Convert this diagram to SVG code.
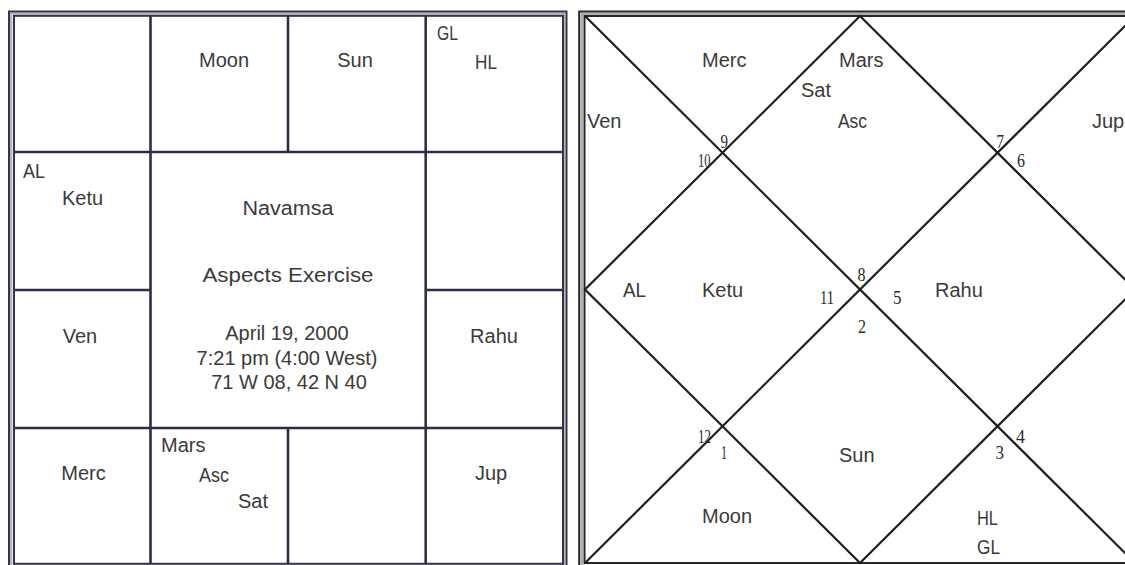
<svg xmlns="http://www.w3.org/2000/svg" width="1125" height="565" viewBox="0 0 1125 565">
<style>
.t{font-family:"Liberation Sans",Arial,sans-serif;font-size:20px;fill:#3a3a3a}
.c{text-anchor:middle}
.n{font-family:"Liberation Serif","Times New Roman",serif;font-size:19px;fill:#2a2a2a}
.g{stroke:#2e2e44;stroke-width:2.6;fill:none}
.b1{stroke:#34344a;stroke-width:2;fill:none}
.b2{stroke:#b4b4bc;stroke-width:2.2;fill:none}
.r{stroke:#1e1e1e;stroke-width:2.2;fill:none}
.rb{stroke:#262626;stroke-width:2;fill:none}
.rb2{stroke:#a8a8a8;stroke-width:2.2;fill:none}
</style>
<rect width="1125" height="565" fill="#ffffff"/>

<!-- connectors / grid lines -->
<g id="connectors">
  <!-- left chart border -->
  <rect class="b2" x="11.2" y="13.6" width="553" height="560"/>
  <rect class="b1" x="9" y="11.5" width="557.5" height="565"/>
  <rect class="b1" x="14" y="15.8" width="549" height="548"/>
  <!-- left chart grid -->
  <line class="g" x1="150.5" y1="15.8" x2="150.5" y2="564"/>
  <line class="g" x1="425.7" y1="15.8" x2="425.7" y2="564"/>
  <line class="g" x1="288" y1="15.8" x2="288" y2="152"/>
  <line class="g" x1="288" y1="428" x2="288" y2="564"/>
  <line class="g" x1="14" y1="152" x2="563" y2="152"/>
  <line class="g" x1="14" y1="428" x2="563" y2="428"/>
  <line class="g" x1="14" y1="290" x2="150.5" y2="290"/>
  <line class="g" x1="425.7" y1="290" x2="563" y2="290"/>
  <!-- right chart border -->
  <rect class="rb2" x="581.8" y="13.8" width="560" height="560"/>
  <rect class="rb" x="579.2" y="11.5" width="570" height="565"/>
  <rect class="rb" x="584.5" y="16" width="551" height="547"/>
  <!-- right chart diagonals -->
  <line class="r" x1="585" y1="16" x2="1135" y2="563"/>
  <line class="r" x1="585" y1="563" x2="1135" y2="16"/>
  <polygon class="r" points="860,16 1135,289.5 860,563 585,289.5"/>
</g>

<!-- left chart (Navamsa, South Indian style) -->
<g id="left-chart">
  <g id="L-top-1"></g>
  <g id="L-top-2"><text class="t c" x="224" y="67">Moon</text></g>
  <g id="L-top-3"><text class="t c" x="355" y="67">Sun</text></g>
  <g id="L-top-4">
    <text class="t" x="437" y="40" textLength="21" lengthAdjust="spacingAndGlyphs">GL</text>
    <text class="t" x="475" y="69" textLength="22" lengthAdjust="spacingAndGlyphs">HL</text>
  </g>
  <g id="L-row2-1">
    <text class="t" x="23" y="178" textLength="22" lengthAdjust="spacingAndGlyphs">AL</text>
    <text class="t c" x="82.5" y="205">Ketu</text>
  </g>
  <g id="L-row2-4"></g>
  <g id="L-row3-1"><text class="t c" x="80" y="343">Ven</text></g>
  <g id="L-row3-4"><text class="t c" x="494" y="343">Rahu</text></g>
  <g id="L-bot-1"><text class="t c" x="83.5" y="480">Merc</text></g>
  <g id="L-bot-2">
    <text class="t" x="161" y="452">Mars</text>
    <text class="t" x="199" y="482" textLength="30" lengthAdjust="spacingAndGlyphs">Asc</text>
    <text class="t" x="238" y="508">Sat</text>
  </g>
  <g id="L-bot-3"></g>
  <g id="L-bot-4"><text class="t c" x="491" y="480">Jup</text></g>
  <g id="L-center">
    <text class="t c" x="288" y="215" font-size="27" textLength="91" lengthAdjust="spacingAndGlyphs">Navamsa</text>
    <text class="t c" x="288" y="282" font-size="27" textLength="171" lengthAdjust="spacingAndGlyphs">Aspects Exercise</text>
    <text class="t c" x="287" y="340">April 19, 2000</text>
    <text class="t c" x="287" y="364.5">7:21 pm (4:00 West)</text>
    <text class="t c" x="289" y="389">71 W 08, 42 N 40</text>
  </g>
</g>

<!-- right chart (North Indian style) -->
<g id="right-chart">
  <g id="R-h9"><text class="t" x="702" y="67">Merc</text></g>
  <g id="R-h8">
    <text class="t" x="839" y="67">Mars</text>
    <text class="t" x="801" y="97">Sat</text>
    <text class="t" x="838" y="128" textLength="29" lengthAdjust="spacingAndGlyphs">Asc</text>
  </g>
  <g id="R-h10"><text class="t" x="587" y="128">Ven</text></g>
  <g id="R-h6"><text class="t" x="1092" y="128">Jup</text></g>
  <g id="R-h11">
    <text class="t" x="623" y="297" textLength="23" lengthAdjust="spacingAndGlyphs">AL</text>
    <text class="t" x="702" y="297">Ketu</text>
  </g>
  <g id="R-h5"><text class="t" x="935" y="297">Rahu</text></g>
  <g id="R-h2"><text class="t" x="839" y="462">Sun</text></g>
  <g id="R-h1"><text class="t" x="702" y="523">Moon</text></g>
  <g id="R-h3">
    <text class="t" x="977" y="525" textLength="21" lengthAdjust="spacingAndGlyphs">HL</text>
    <text class="t" x="977" y="554" textLength="23" lengthAdjust="spacingAndGlyphs">GL</text>
  </g>
  <g id="R-numbers">
    <text class="n" x="720.5" y="148" textLength="7.5" lengthAdjust="spacingAndGlyphs">9</text>
    <text class="n" x="698" y="167" textLength="12.5" lengthAdjust="spacingAndGlyphs">10</text>
    <text class="n" x="996.5" y="148" textLength="7.5" lengthAdjust="spacingAndGlyphs">7</text>
    <text class="n" x="1017" y="167" textLength="8" lengthAdjust="spacingAndGlyphs">6</text>
    <text class="n" x="857.5" y="281" textLength="8" lengthAdjust="spacingAndGlyphs">8</text>
    <text class="n" x="820" y="304" textLength="14" lengthAdjust="spacingAndGlyphs">11</text>
    <text class="n" x="893" y="304" textLength="8.5" lengthAdjust="spacingAndGlyphs">5</text>
    <text class="n" x="858" y="333" textLength="8" lengthAdjust="spacingAndGlyphs">2</text>
    <text class="n" x="698" y="443" textLength="13" lengthAdjust="spacingAndGlyphs">12</text>
    <text class="n" x="721" y="459" textLength="6" lengthAdjust="spacingAndGlyphs">1</text>
    <text class="n" x="1016" y="443" textLength="9" lengthAdjust="spacingAndGlyphs">4</text>
    <text class="n" x="995.5" y="459" textLength="8.5" lengthAdjust="spacingAndGlyphs">3</text>
  </g>
</g>
</svg>
